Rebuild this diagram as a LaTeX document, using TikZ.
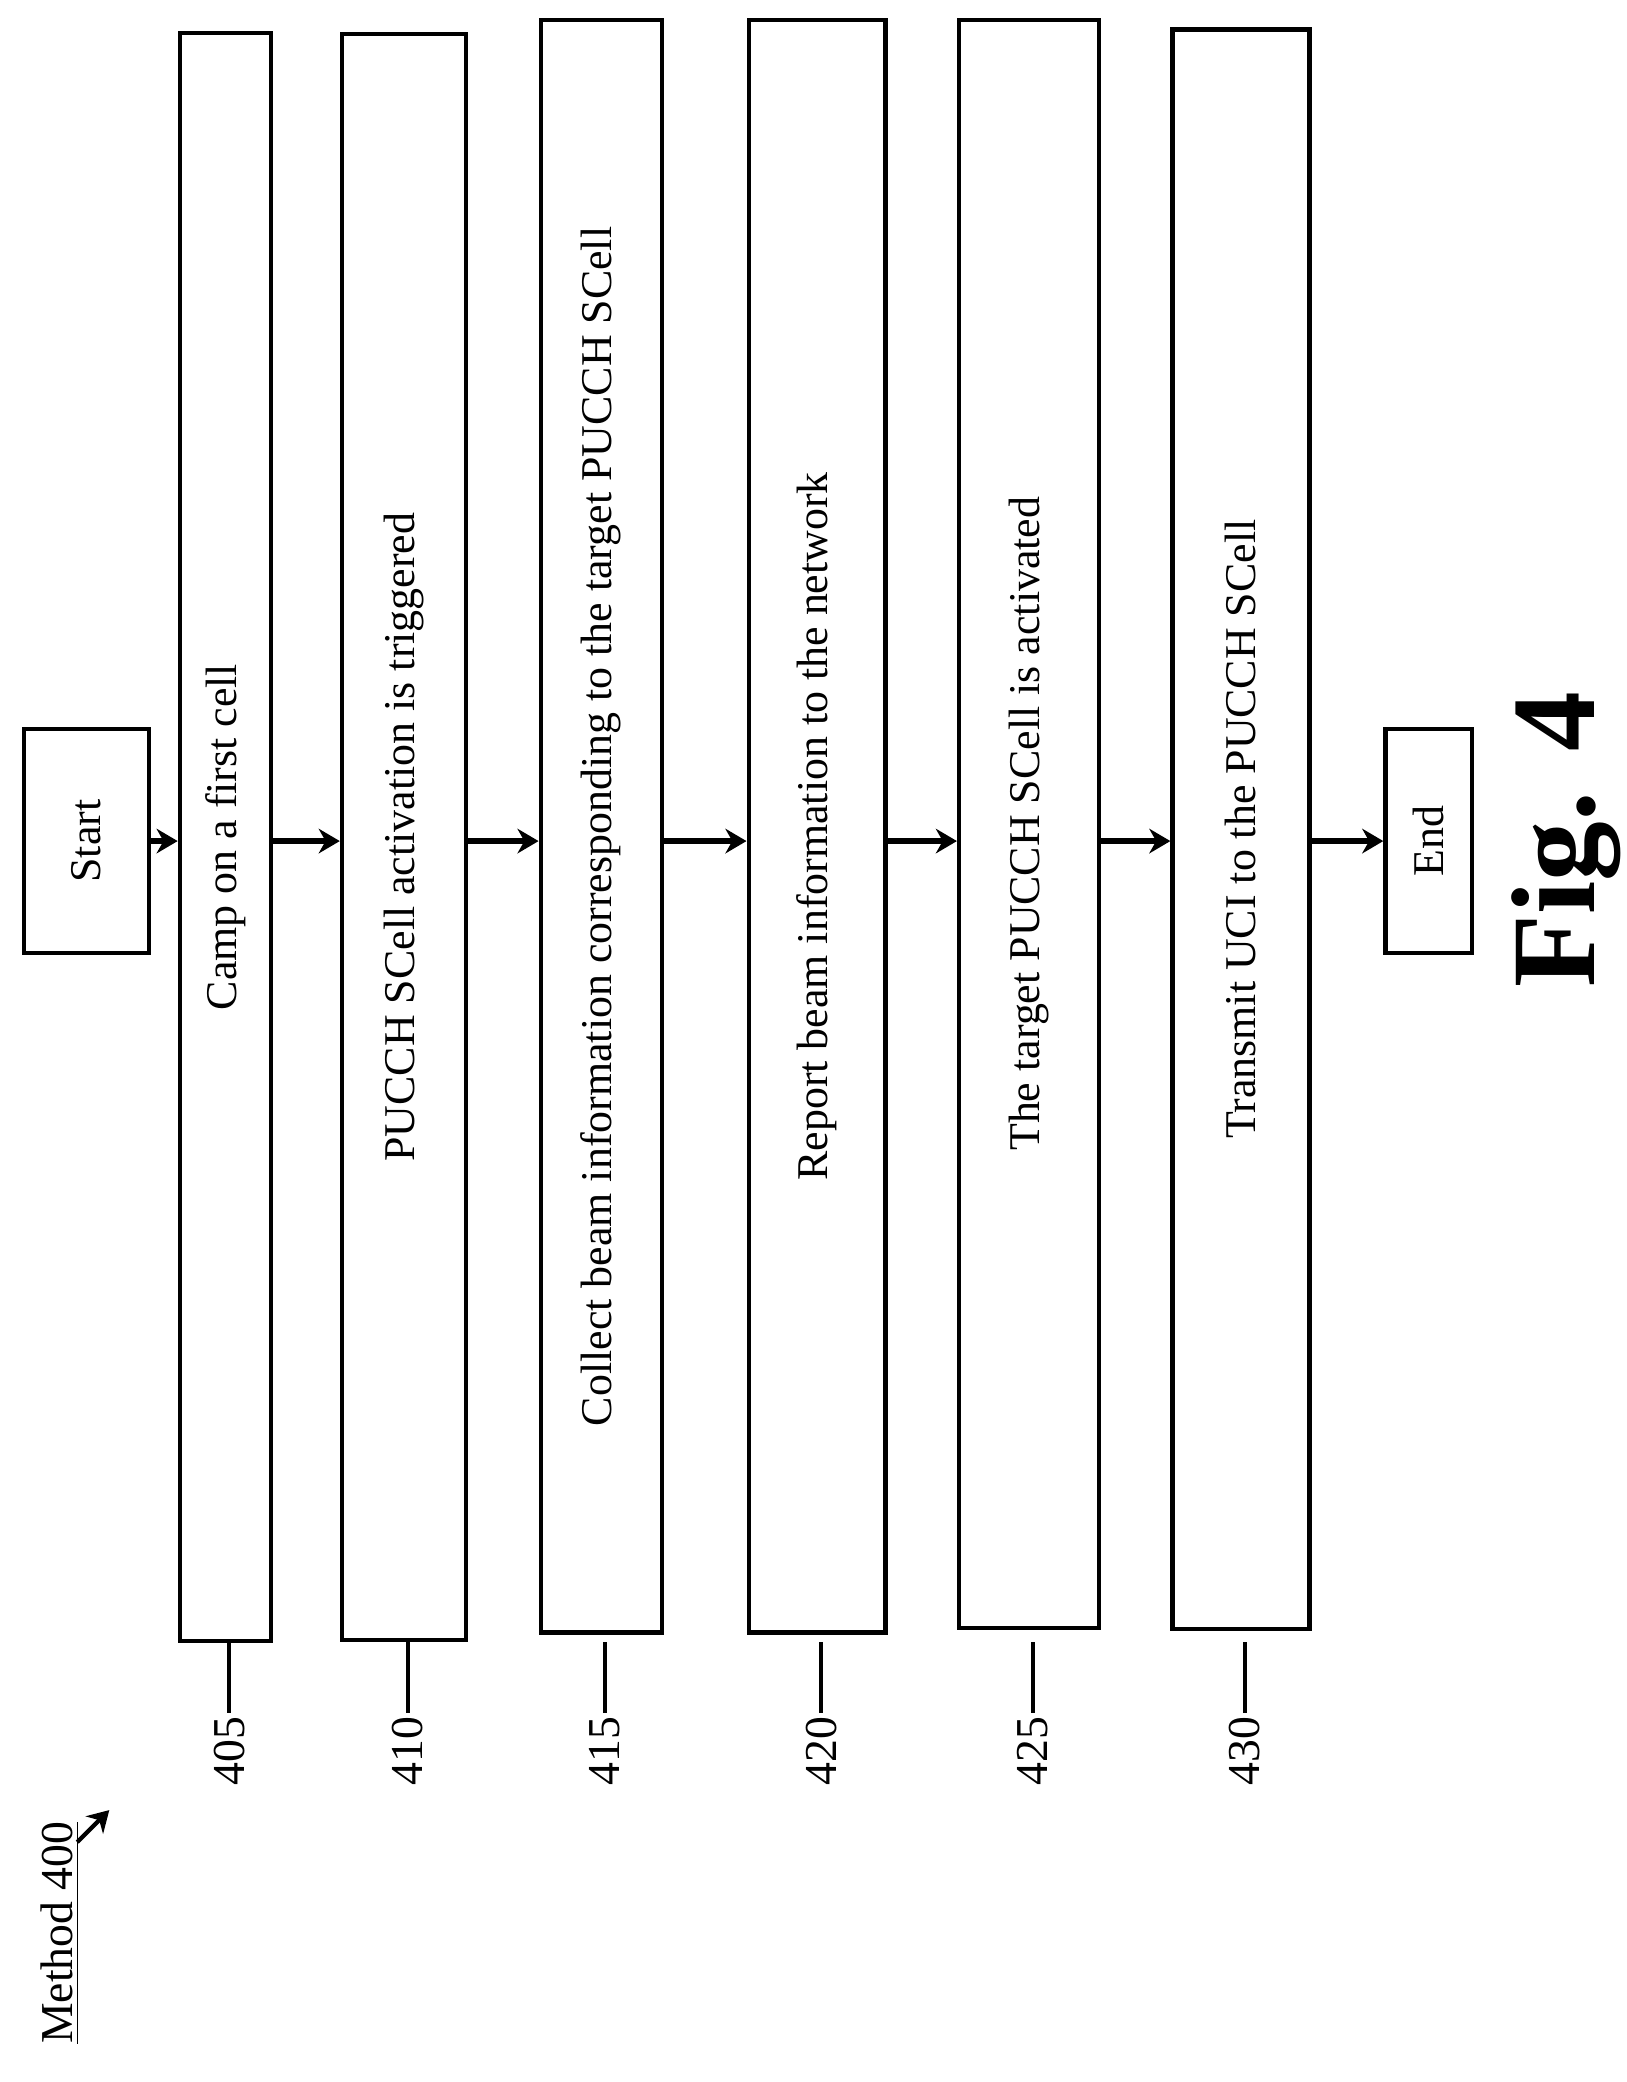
\documentclass[tikz,border=0pt]{standalone}
\usepackage{fontspec}
\setmainfont{Liberation Serif}
\usetikzlibrary{arrows.meta}
\begin{document}
\begin{tikzpicture}[x=0.01333cm, y=-0.01333cm]

    \tikzstyle{step box} = [draw, line width=1.2pt, rotate=90, inner sep=0pt,
                            font=\fontsize{12.5}{14}\selectfont];
    \tikzstyle{flow} = [-{Stealth[length=6pt, width=7pt]}, line width=1.8pt];
    \tikzstyle{ref label} = [rotate=90, anchor=east, inner sep=1pt,
                             font=\fontsize{13}{15}\selectfont];

    \useasboundingbox (0,0) rectangle (1220,1562);

    \node[step box, minimum width=2.24cm, minimum height=1.25cm] (start) at (65,631) {Start};
    \node[step box, minimum width=16.09cm, minimum height=0.91cm] (b405) at (169,628) {Camp on a first cell};
    \node[step box, minimum width=16.07cm, minimum height=1.24cm] (b410) at (303,628) {PUCCH SCell activation is triggered};
    \node[step box, minimum width=16.13cm, minimum height=1.21cm] (b415) at (451,620) {Collect beam information corresponding to the target PUCCH SCell};
    \node[step box, minimum width=16.13cm, minimum height=1.37cm] (b420) at (613,620) {Report beam information to the network};
    \node[step box, minimum width=16.09cm, minimum height=1.40cm] (b425) at (772,618) {The target PUCCH SCell is activated};
    \node[step box, minimum width=16.00cm, minimum height=1.37cm] (b430) at (931,622) {Transmit UCI to the PUCCH SCell};
    \node[step box, minimum width=2.24cm, minimum height=0.87cm] (end) at (1072,631) {End};

    % arrows between steps
    \draw[flow] (start.south) -- (start.south -| b405.north);
    \foreach \a/\b in {b405/b410, b410/b415, b415/b420, b420/b425, b425/b430, b430/end}
        \draw[flow] (\a.south |- start.south) -- (\b.north |- start.south);

    % reference numerals
    \foreach \n/\x in {405/172, 410/306, 415/454, 420/616, 425/775, 430/934} {
        \node[ref label] (l\n) at (\x,1285) {\n};
        \draw[line width=1.2pt] (\x,1232) -- (l\n.east);
    }

    \node[rotate=90, font=\fontsize{13}{15}\selectfont] (method) at (45,1450) {\underline{Method 400}};
    \coordinate (mtail) at (58,1382);
    \coordinate (mtip) at (82,1358);
    \draw[flow, line width=1.2pt] (mtail) -- (mtip);

    \node[rotate=90, font=\bfseries\fontsize{34}{38}\selectfont] (fig) at (1175,630) {Fig. 4};

\end{tikzpicture}
\end{document}
